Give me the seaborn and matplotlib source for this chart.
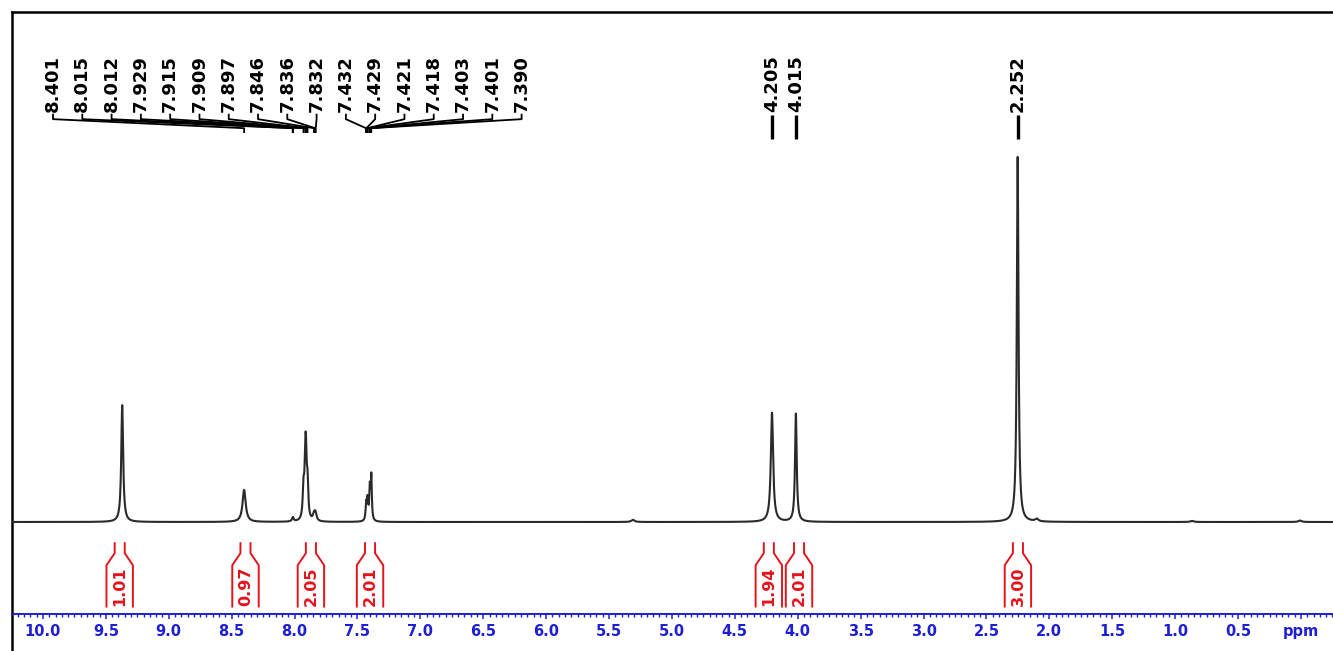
import numpy as np
import pandas as pd
import matplotlib
matplotlib.use("Agg")
import matplotlib.pyplot as plt
import matplotlib.transforms as mtransforms
from matplotlib.ticker import FixedLocator, FixedFormatter, MultipleLocator
import seaborn as sns

# ---------------------------------------------------------------------------
# 1H NMR lines: chemical shift (ppm), amplitude (tallest line = 100), width (ppm)
# ---------------------------------------------------------------------------
line_ppm = [9.370, 8.401, 8.015, 8.012, 7.929, 7.915, 7.909, 7.897,
            7.846, 7.836, 7.832, 7.432, 7.429, 7.421, 7.418, 7.403,
            7.401, 7.390, 5.310, 4.205, 4.015, 2.252, 2.100, 0.866, 0.008]
line_height = [32.0, 8.8, 0.6, 0.6, 8.0, 13.0, 13.0, 9.0,
               1.5, 1.2, 1.0, 2.5, 2.5, 3.0, 3.0, 4.5,
               4.5, 12.0, 0.6, 29.9, 29.6, 100.0, 0.7, 0.3, 0.4]
line_fwhm = [0.018, 0.030, 0.015, 0.015, 0.014, 0.014, 0.014, 0.014,
             0.020, 0.020, 0.020, 0.010, 0.010, 0.010, 0.010, 0.010,
             0.010, 0.010, 0.030, 0.022, 0.016, 0.016, 0.030, 0.030, 0.030]

# Peak-picking labels
multiplet_picks = [8.401, 8.015, 8.012, 7.929, 7.915, 7.909, 7.897, 7.846,
                   7.836, 7.832, 7.432, 7.429, 7.421, 7.418, 7.403, 7.401, 7.390]
single_picks = [4.205, 4.015, 2.252]

# Integral regions (centre, ppm) and integral values
integral_center = [9.39, 8.39, 7.87, 7.40, 4.23, 3.99, 2.25]
integral_value = ["1.01", "0.97", "2.05", "2.01", "1.94", "2.01", "3.00"]

# Axis ticks
tick_values = [10.0, 9.5, 9.0, 8.5, 8.0, 7.5, 7.0, 6.5, 6.0, 5.5, 5.0,
               4.5, 4.0, 3.5, 3.0, 2.5, 2.0, 1.5, 1.0, 0.5, 0.0]
tick_labels = ["10.0", "9.5", "9.0", "8.5", "8.0", "7.5", "7.0", "6.5", "6.0",
               "5.5", "5.0", "4.5", "4.0", "3.5", "3.0", "2.5", "2.0", "1.5",
               "1.0", "0.5", "ppm"]

# ---------------------------------------------------------------------------
# Spectrum trace: sum of Lorentzian lines on a fine shift grid
# ---------------------------------------------------------------------------
grid = np.linspace(10.30, -0.40, 21401)
trace = np.zeros_like(grid)
for p0, h, w in zip(line_ppm, line_height, line_fwhm):
    trace += h / (1.0 + ((grid - p0) / (w / 2.0)) ** 2)
spectrum = pd.DataFrame({"ppm": grid, "intensity": trace})

sns.set_theme(style="white")
plt.rcParams["font.family"] = ["DejaVu Sans"]

W, H = 1333, 651
fig = plt.figure(figsize=(W / 100, H / 100), dpi=100)
fig.patch.set_facecolor("white")


def fig_rect(x0, y0, x1, y1):
    """Pixel box (origin top-left) -> figure-fraction rectangle."""
    return [x0 / W, 1 - y1 / H, (x1 - x0) / W, (y1 - y0) / H]


# Outer frame
frame = fig.add_axes(fig_rect(12, 12, 1345, 668))
frame.set_xticks([])
frame.set_yticks([])
frame.set_facecolor("white")
for side in ("right", "bottom"):
    frame.spines[side].set_visible(False)
for side in ("top", "left"):
    frame.spines[side].set_color("black")
    frame.spines[side].set_linewidth(1.8)

# Spectrum axes
ax = fig.add_axes(fig_rect(12, 12, 1345, 614))
ax.patch.set_alpha(0)
sns.lineplot(data=spectrum, x="ppm", y="intensity", ax=ax, color="#2a2a2a",
             linewidth=1.5, estimator=None, sort=False, legend=False, zorder=3)

ax.set_xlim(10.246, -0.350)
ax.set_ylim(-25.2, 139.7)
ax.set_xlabel("")
ax.set_ylabel("")
ax.set_yticks([])
for side in ("left", "right", "top"):
    ax.spines[side].set_visible(False)

blue = "#1e1ed2"
ax.spines["bottom"].set_color(blue)
ax.spines["bottom"].set_linewidth(1.4)
ax.xaxis.set_major_locator(FixedLocator(tick_values))
ax.xaxis.set_major_formatter(FixedFormatter(tick_labels))
ax.xaxis.set_minor_locator(MultipleLocator(0.05))
ax.tick_params(axis="x", which="major", direction="out", length=3.8, width=1.1,
               colors=blue, labelsize=10.5, pad=3.6, bottom=True)
ax.tick_params(axis="x", which="minor", direction="out", length=1.8, width=1.0,
               colors=blue, bottom=True)
for lbl in ax.get_xticklabels():
    lbl.set_fontweight("heavy")

blend = mtransforms.blended_transform_factory(ax.transData, ax.transAxes)

# Peak-picking labels for the aromatic multiplets (evenly spread above)
label_start, label_pitch = 9.92, 0.2328
for i, v in enumerate(multiplet_picks):
    lx = label_start - i * label_pitch
    ax.text(lx, 0.834, f"{v:.3f}", rotation=90, ha="center", va="bottom",
            transform=blend, fontsize=13, fontweight="bold", color="black")
    ax.plot([lx, lx, v, v], [0.831, 0.822, 0.807, 0.799], transform=blend,
            color="black", linewidth=1.3, solid_capstyle="butt")

# Peak-picking labels for isolated singlets
for v in single_picks:
    ax.text(v, 0.834, f"{v:.3f}", rotation=90, ha="center", va="bottom",
            transform=blend, fontsize=13, fontweight="bold", color="black")
    ax.plot([v, v], [0.829, 0.789], transform=blend, color="black",
            linewidth=2.4, solid_capstyle="butt")

# Integral brackets with their values
red = "#e3141b"
inner, outer = 0.040, 0.105
for c, val in zip(integral_center, integral_value):
    for s in (1, -1):
        ax.plot([c + s * inner, c + s * inner, c + s * outer, c + s * outer],
                [0.118, 0.101, 0.081, 0.012], transform=blend, color=red,
                linewidth=1.4)
    ax.text(c, 0.014, val, rotation=90, ha="center", va="bottom",
            transform=blend, fontsize=11.5, fontweight="bold", color=red)

fig.savefig("out.png", dpi=100, facecolor="white")
